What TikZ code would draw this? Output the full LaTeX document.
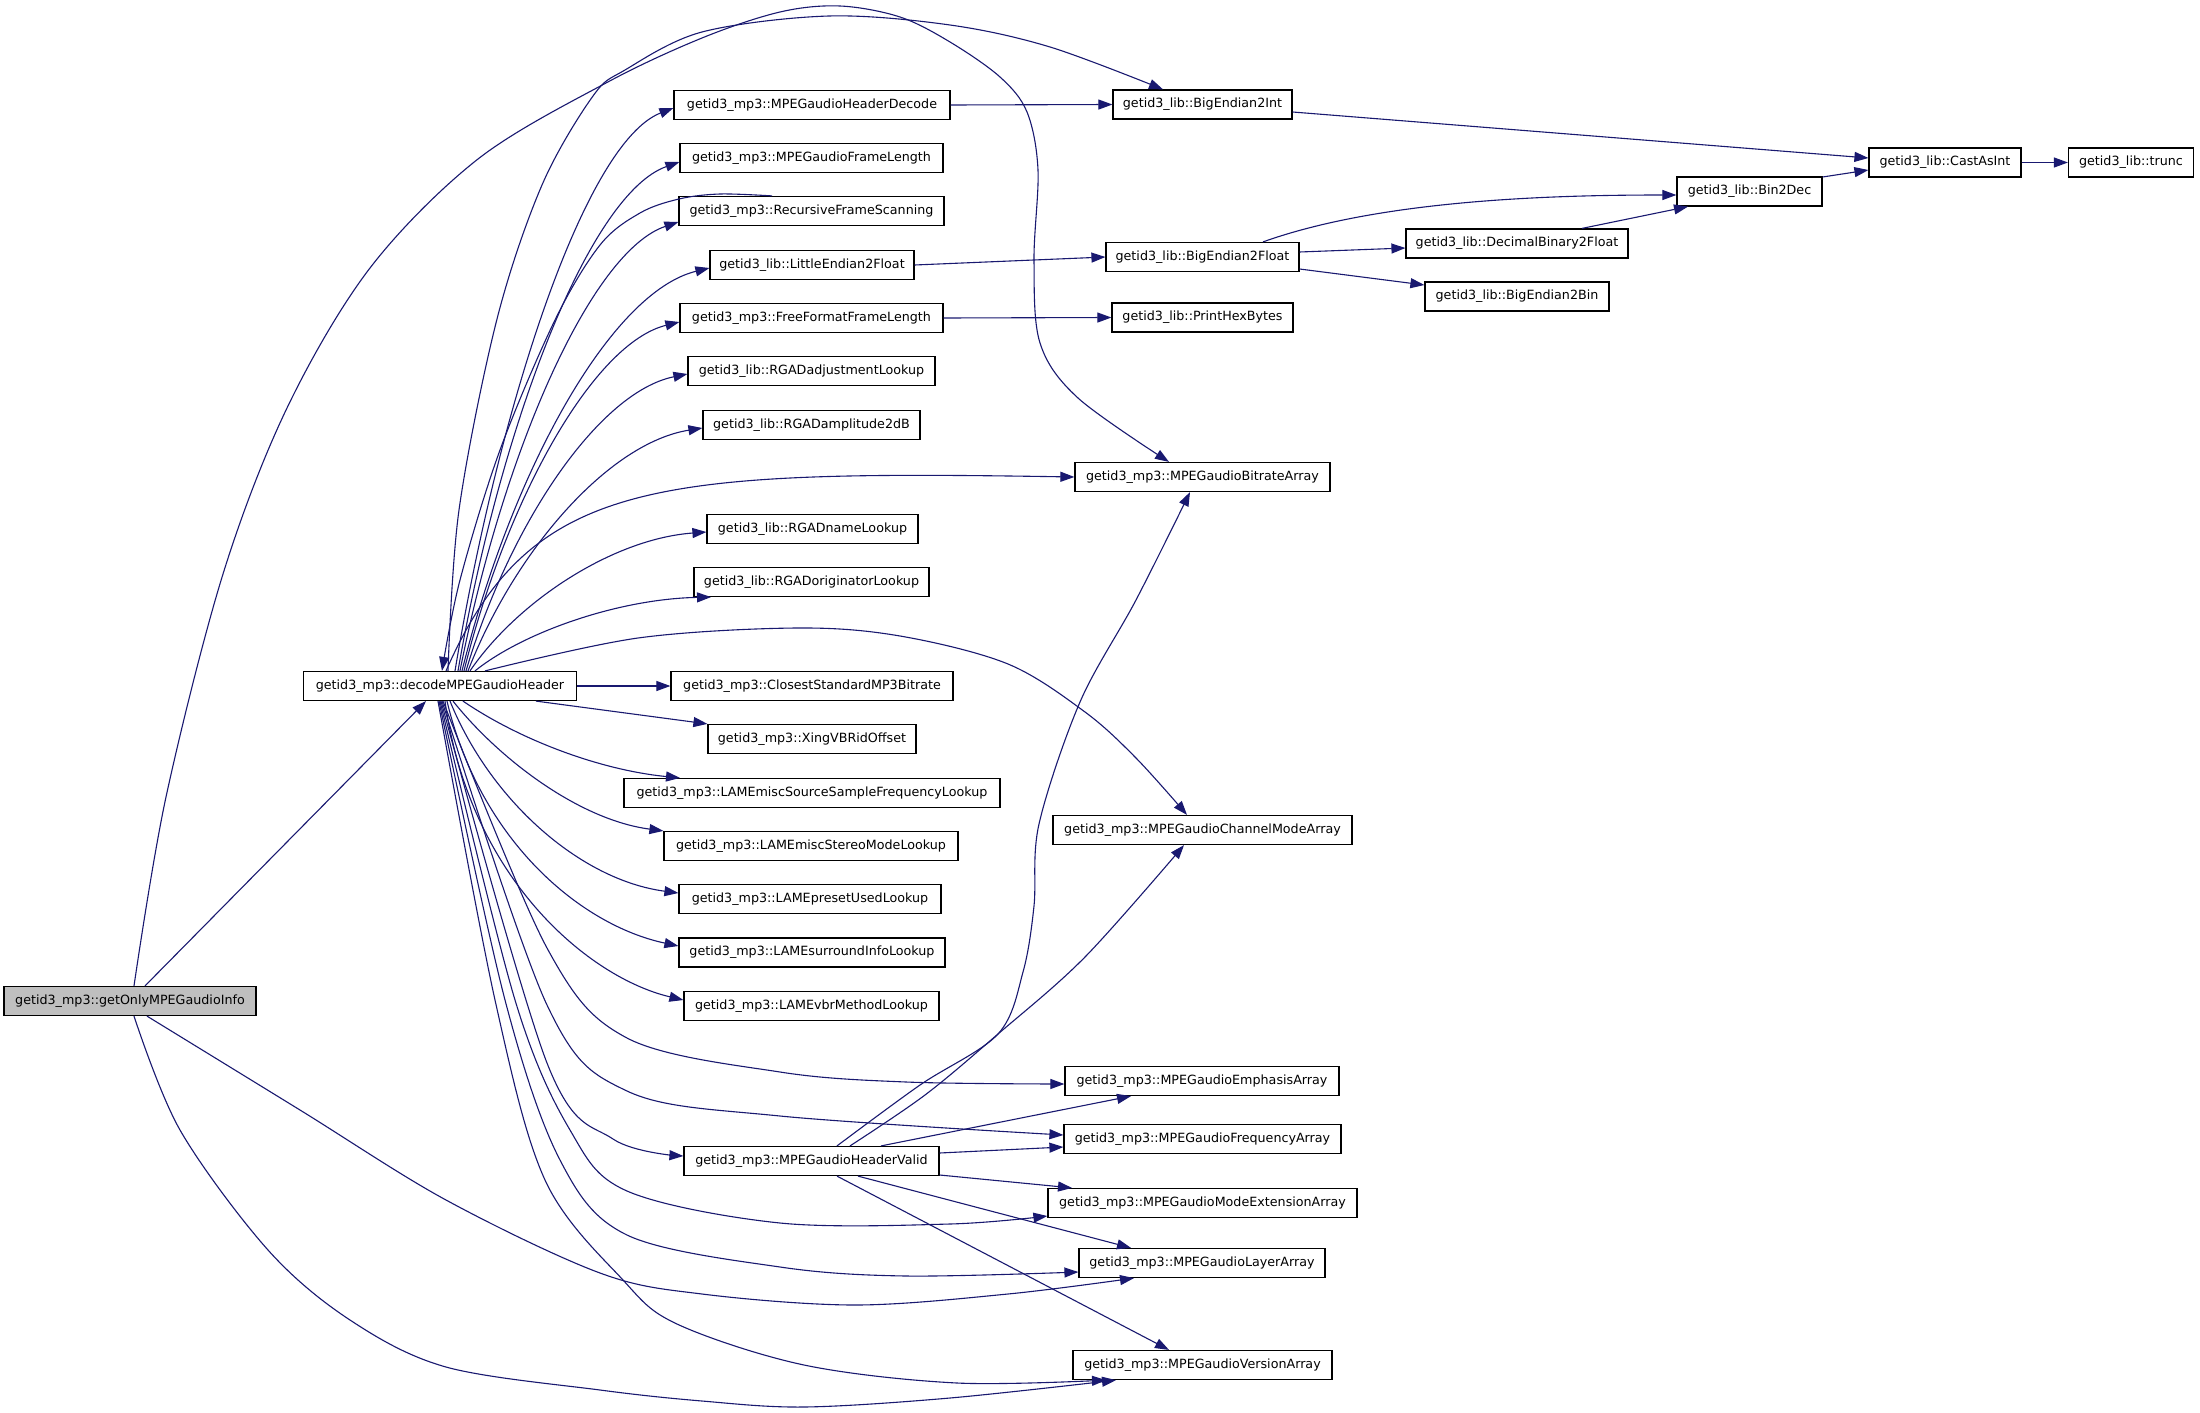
\documentclass[tikz,border=0pt]{standalone}
\usepackage{fontspec}
\setmainfont{DejaVu Sans}
\usetikzlibrary{arrows.meta}
\definecolor{edgeblue}{RGB}{25,25,112}
\definecolor{rootgray}{RGB}{191,191,191}
\begin{document}
\begin{tikzpicture}[x=0.5pt,y=-0.5pt,
  fn/.style={draw=black, line width=0.6pt, fill=white, font=\fontsize{6.35}{7}\selectfont,
    minimum height=14.5pt, inner sep=0pt, minimum width=#1},
  rootfn/.style={fn=#1, fill=rootgray},
  e/.style={draw=edgeblue, line width=0.55pt, -{Triangle[length=7pt,width=5pt]}},
  sm/.style={smooth, tension=0.55}]
\fill[white] (0,0) rectangle (2200,1413);
\useasboundingbox (0,0) rectangle (2200,1413);
% nodes
\node[rootfn=126pt] (A) at (130,1001) {getid3\_mp3::getOnlyMPEGaudioInfo};
\node[fn=136.5pt] (D) at (440,686) {getid3\_mp3::decodeMPEGaudioHeader};
\node[fn=138pt] (HD) at (812,105) {getid3\_mp3::MPEGaudioHeaderDecode};
\node[fn=131.5pt] (FL) at (811.5,158) {getid3\_mp3::MPEGaudioFrameLength};
\node[fn=132.5pt] (RFS) at (811.5,211) {getid3\_mp3::RecursiveFrameScanning};
\node[fn=102pt] (LEF) at (812,265) {getid3\_lib::LittleEndian2Float};
\node[fn=131.5pt] (FFL) at (811.5,318) {getid3\_mp3::FreeFormatFrameLength};
\node[fn=123.5pt] (RGA1) at (811.5,371) {getid3\_lib::RGADadjustmentLookup};
\node[fn=108.5pt] (RGA2) at (811.5,425) {getid3\_lib::RGADamplitude2dB};
\node[fn=105.5pt] (RGN) at (812.5,529) {getid3\_lib::RGADnameLookup};
\node[fn=117.5pt] (RGO) at (811.5,582) {getid3\_lib::RGADoriginatorLookup};
\node[fn=141pt] (CSB) at (812,686) {getid3\_mp3::ClosestStandardMP3Bitrate};
\node[fn=104pt] (XVB) at (812,739) {getid3\_mp3::XingVBRidOffset};
\node[fn=188pt] (LSS) at (812,793) {getid3\_mp3::LAMEmiscSourceSampleFrequencyLookup};
\node[fn=147pt] (LSM) at (811,846) {getid3\_mp3::LAMEmiscStereoModeLookup};
\node[fn=131pt] (LPU) at (810,899) {getid3\_mp3::LAMEpresetUsedLookup};
\node[fn=133pt] (LSI) at (812,952.5) {getid3\_mp3::LAMEsurroundInfoLookup};
\node[fn=127.5pt] (LVM) at (811.5,1006) {getid3\_mp3::LAMEvbrMethodLookup};
\node[fn=127.5pt] (HV) at (811.5,1161) {getid3\_mp3::MPEGaudioHeaderValid};
\node[fn=89.5pt] (BEI) at (1202.5,104.5) {getid3\_lib::BigEndian2Int};
\node[fn=96.5pt] (BEF) at (1202.5,257) {getid3\_lib::BigEndian2Float};
\node[fn=90.5pt] (PHB) at (1202.5,317.5) {getid3\_lib::PrintHexBytes};
\node[fn=127.5pt] (BRA) at (1202.5,477) {getid3\_mp3::MPEGaudioBitrateArray};
\node[fn=149.5pt] (CMA) at (1202.5,830) {getid3\_mp3::MPEGaudioChannelModeArray};
\node[fn=137pt] (EMA) at (1202,1081) {getid3\_mp3::MPEGaudioEmphasisArray};
\node[fn=138.5pt] (FRA) at (1202.5,1139) {getid3\_mp3::MPEGaudioFrequencyArray};
\node[fn=154.5pt] (MEA) at (1202.5,1203) {getid3\_mp3::MPEGaudioModeExtensionArray};
\node[fn=123pt] (LYA) at (1202,1263) {getid3\_mp3::MPEGaudioLayerArray};
\node[fn=129.5pt] (VRA) at (1202.5,1365) {getid3\_mp3::MPEGaudioVersionArray};
\node[fn=72.5pt] (B2D) at (1749.5,191.5) {getid3\_lib::Bin2Dec};
\node[fn=111pt] (DB2F) at (1517,243.5) {getid3\_lib::DecimalBinary2Float};
\node[fn=92pt] (BE2B) at (1517,296.5) {getid3\_lib::BigEndian2Bin};
\node[fn=76pt] (CAI) at (1945,162.5) {getid3\_lib::CastAsInt};
\node[fn=62.5pt] (TRN) at (2131,162.5) {getid3\_lib::trunc};
% edges from getOnlyMPEGaudioInfo
\draw[e] (A.north -| 145,0) -- (D.south -| 426,0);
\draw[e] plot[sm] coordinates {(A.north -| 134,0) (166,797) (223,574) (287,408) (370,268) (478,159) (606,83) (702,38) (780,12) (840,6) (900,17) (950,42) (1000,77) (1027,112) (1038,170) (1034,260) (1040,343) (1078,398) (BRA.north -| 1169,0)};
\draw[e] plot[sm] coordinates {(A.south -| 147,0) (300,1110) (446,1200) (600,1273) (702,1294) (855,1305) (1008,1294) (LYA.south -| 1134,0)};
\draw[e] plot[sm] coordinates {(A.south -| 134,0) (180,1130) (268,1250) (350,1320) (446,1367) (600,1390) (702,1401) (804,1407) (950,1398) (VRA.south -| 1116,0)};
% decodeMPEGaudioHeader, upward
\draw[e] plot[sm] coordinates {(D.north -| 448,0) (459,510) (497,319) (542,185) (593,96) (625,70) (702,32) (829,16) (950,25) (1050,47) (BEI.north -| 1163,0)};
\draw[e] plot[sm] coordinates {(RFS.north -| 772,0) (720,194) (679,199) (640,213) (600,245) (555,320) (500,450) (460,580) (D.north -| 442,0)};
\draw[e] (D.north -| 455,0) .. controls (500,400) and (586,142) .. (HD.west |- 0,108);
\draw[e] (D.north -| 458,0) .. controls (502,417) and (591,193) .. (FL.west |- 0,162);
\draw[e] (D.north -| 460,0) .. controls (504,448) and (592,251) .. (RFS.west |- 0,222);
\draw[e] (D.north -| 462,0) .. controls (512,470) and (611,292) .. (LEF.west |- 0,268);
\draw[e] (D.north -| 464,0) .. controls (507,497) and (594,343) .. (FFL.west |- 0,322);
\draw[e] (D.north -| 466,0) .. controls (510,523) and (599,392) .. (RGA1.west |- 0,374);
\draw[e] (D.north -| 468,0) .. controls (515,550) and (609,443) .. (RGA2.west |- 0,428);
\draw[e] (D.north -| 446,0) .. controls (530,480) and (650,470) .. (BRA.west);
\draw[e] (D.north -| 470,0) .. controls (517,602) and (612,539) .. (RGN.west |- 0,532);
\draw[e] (D.north -| 475,0) .. controls (522,633) and (617,599) .. (RGO.south -| 711,0);
\draw[e] plot[sm] coordinates {(D.north -| 485,0) (638,638) (797,628) (900,636) (1008,664) (1085,712) (1136,758) (CMA.north -| 1187,0)};
\draw[e] (D.east) -- (CSB.west);
% decodeMPEGaudioHeader, downward
\draw[e] (D.south -| 536,0) -- (XVB.north west);
\draw[e] (D.south -| 463,0) .. controls (520,740) and (600,770) .. (LSS.north -| 680,0);
\draw[e] (D.south -| 453,0) .. controls (500,760) and (580,820) .. (LSM.north west);
\draw[e] (D.south -| 450,0) .. controls (490,800) and (580,880) .. (LPU.west |- 0,893);
\draw[e] (D.south -| 447,0) .. controls (480,840) and (580,925) .. (LSI.west |- 0,946);
\draw[e] (D.south -| 445,0) .. controls (470,880) and (590,978) .. (LVM.west |- 0,1000);
\draw[e] plot[sm] coordinates {(D.south -| 443,0) (547,948) (627,1038) (780,1072) (906,1082) (EMA.west |- 0,1084)};
\draw[e] plot[sm] coordinates {(D.south -| 442,0) (547,1005) (627,1091) (780,1116) (FRA.west |- 0,1135)};
\draw[e] plot[sm] coordinates {(D.south -| 441,0) (547,1063) (613,1139) (HV.west |- 0,1156)};
\draw[e] plot[sm] coordinates {(D.south -| 440,0) (515,1000) (570,1130) (627,1191) (780,1223) (950,1224) (MEA.west |- 0,1216)};
\draw[e] plot[sm] coordinates {(D.south -| 439,0) (505,1000) (560,1160) (627,1235) (780,1267) (906,1276) (LYA.west |- 0,1272)};
\draw[e] plot[sm] coordinates {(D.south -| 438,0) (495,1000) (545,1180) (623,1280) (677,1324) (804,1365) (957,1383) (VRA.south -| 1106,0)};
% MPEGaudioHeaderValid
\draw[e] plot[sm] coordinates {(HV.north -| 837,0) (920,1085) (998,1034) (1023,972) (1034,906) (1039,824) (1080,702) (1136,600) (BRA.south -| 1190,0)};
\draw[e] plot[sm] coordinates {(HV.north -| 850,0) (925,1095) (998,1034) (1085,957) (CMA.south -| 1184,0)};
\draw[e] (HV.north -| 881,0) -- (EMA.south -| 1131,0);
\draw[e] (HV.east |- 0,1153) -- (FRA.west |- 0,1147);
\draw[e] (HV.east |- 0,1175) -- (MEA.north -| 1072,0);
\draw[e] (HV.south -| 858,0) -- (LYA.north -| 1131,0);
\draw[e] (HV.south -| 837,0) -- (VRA.north -| 1169,0);
% library calls
\draw[e] (HD.east) -- (BEI.west);
\draw[e] (LEF.east) -- (BEF.west);
\draw[e] (FFL.east) -- (PHB.west);
\draw[e] (BEI.east |- 0,112) -- (CAI.west |- 0,158);
\draw[e] (CAI.east) -- (TRN.west);
\draw[e] (BEF.north -| 1263,0) .. controls (1380,200) and (1550,195) .. (B2D.west |- 0,195);
\draw[e] (BEF.east |- 0,252) -- (DB2F.west |- 0,248);
\draw[e] (BEF.east |- 0,269) -- (BE2B.west |- 0,285);
\draw[e] (DB2F.north -| 1582,0) -- (B2D.south -| 1688,0);
\draw[e] (B2D.east |- 0,177) -- (CAI.west |- 0,170);
\end{tikzpicture}
\end{document}
